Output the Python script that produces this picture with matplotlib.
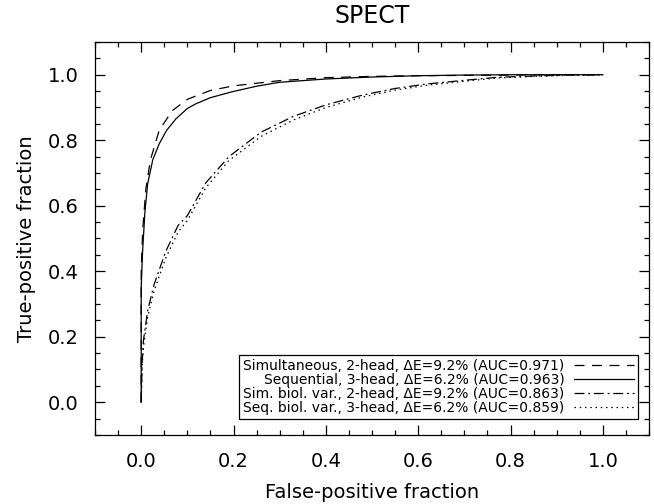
import numpy as np
import matplotlib
matplotlib.use("Agg")
import matplotlib.pyplot as plt
from matplotlib.ticker import MultipleLocator

# ROC points (false-positive fraction, true-positive fraction)
fpf_sim = [0, 0, 0.003, 0.01, 0.02, 0.039, 0.067, 0.1, 0.15, 0.2, 0.3, 0.4, 0.5, 0.6, 0.7, 0.8, 0.9, 1.0]
tpf_sim = [0, 0.40, 0.52, 0.65, 0.74, 0.83, 0.89, 0.925, 0.952, 0.966, 0.982, 0.991, 0.995, 0.997, 0.998, 0.999, 1.0, 1.0]

fpf_seq = [0, 0, 0.003, 0.008, 0.014, 0.025, 0.039, 0.055, 0.075, 0.1, 0.118, 0.15, 0.197, 0.25, 0.3, 0.4, 0.5, 0.6, 0.7, 0.8, 1.0]
tpf_seq = [0, 0.35, 0.46, 0.58, 0.667, 0.74, 0.789, 0.83, 0.865, 0.897, 0.911, 0.93, 0.948, 0.965, 0.977, 0.987, 0.993, 0.997, 0.999, 1.0, 1.0]

fpf_simb = [0, 0.002, 0.005, 0.014, 0.028, 0.053, 0.08, 0.1, 0.14, 0.19, 0.26, 0.33, 0.4, 0.48, 0.55, 0.62, 0.7, 0.77, 0.85, 0.92, 1.0]
tpf_simb = [0, 0.12, 0.19, 0.28, 0.36, 0.46, 0.54, 0.57, 0.67, 0.75, 0.825, 0.873, 0.908, 0.938, 0.958, 0.972, 0.983, 0.992, 0.996, 0.999, 1.0]

fpf_seqb = [0, 0.002, 0.005, 0.014, 0.028, 0.053, 0.08, 0.1, 0.14, 0.19, 0.26, 0.33, 0.4, 0.48, 0.55, 0.62, 0.7, 0.77, 0.85, 0.92, 1.0]
tpf_seqb = [0, 0.11, 0.17, 0.26, 0.34, 0.44, 0.52, 0.555, 0.655, 0.738, 0.812, 0.862, 0.9, 0.932, 0.953, 0.968, 0.98, 0.99, 0.995, 0.998, 1.0]

labels = [
    "Simultaneous, 2-head, \u0394E=9.2% (AUC=0.971)",
    "Sequential, 3-head, \u0394E=6.2% (AUC=0.963)",
    "Sim. biol. var., 2-head, \u0394E=9.2% (AUC=0.863)",
    "Seq. biol. var., 3-head, \u0394E=6.2% (AUC=0.859)",
]

fig = plt.figure(figsize=(6.54, 5.04), dpi=100)
ax = fig.add_axes([0.1453, 0.1369, 0.9924 - 0.1453, 0.9167 - 0.1369])

lw = 0.9
ax.plot(fpf_sim, tpf_sim, color='black', lw=lw, linestyle=(0, (8, 6)), label=labels[0])
ax.plot(fpf_seq, tpf_seq, color='black', lw=lw, linestyle='-', label=labels[1])
ax.plot(fpf_simb, tpf_simb, color='black', lw=lw, linestyle=(0, (8, 3, 1.5, 3)), label=labels[2])
ax.plot(fpf_seqb, tpf_seqb, color='black', lw=lw, linestyle=(0, (1.2, 3)), label=labels[3])

ax.set_xlim(-0.1, 1.1)
ax.set_ylim(-0.1, 1.1)
ax.xaxis.set_major_locator(MultipleLocator(0.2))
ax.xaxis.set_minor_locator(MultipleLocator(0.05))
ax.yaxis.set_major_locator(MultipleLocator(0.2))
ax.yaxis.set_minor_locator(MultipleLocator(0.05))
ax.xaxis.set_major_formatter(matplotlib.ticker.FormatStrFormatter('%.1f'))
ax.yaxis.set_major_formatter(matplotlib.ticker.FormatStrFormatter('%.1f'))
ax.tick_params(which='both', direction='in', top=True, right=True, labelsize=14, width=0.9, colors='black')
ax.tick_params(which='major', length=7, pad=12)
ax.tick_params(which='minor', length=3.5)
for s in ax.spines.values():
    s.set_linewidth(0.9)

ax.set_xlabel("False-positive fraction", fontsize=14, labelpad=9)
ax.set_ylabel("True-positive fraction", fontsize=14, labelpad=8)
ax.set_title("SPECT", fontsize=17, pad=14)

leg = ax.legend(loc='lower right', bbox_to_anchor=(0.980, 0.041), borderaxespad=0,
                markerfirst=False, fontsize=10, labelspacing=0.0, handlelength=4.3,
                handletextpad=0.7, borderpad=0.3, fancybox=False, framealpha=1,
                edgecolor='black')
leg.get_frame().set_linewidth(0.9)

fig.savefig("out.png", dpi=100)
